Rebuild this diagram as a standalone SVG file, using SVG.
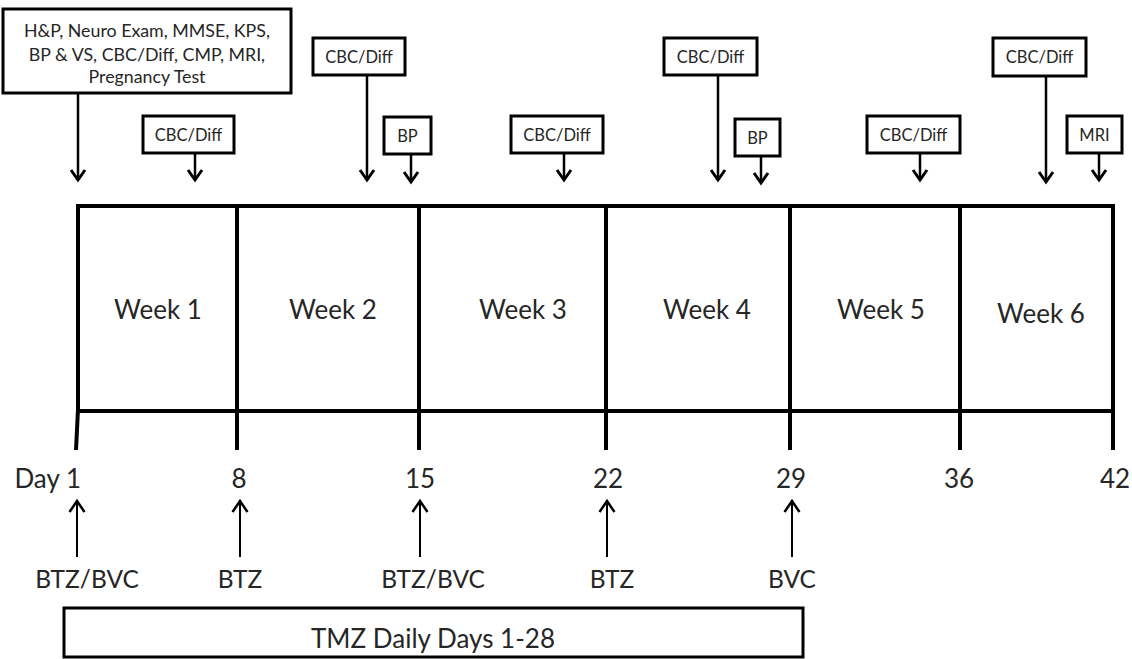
<svg xmlns="http://www.w3.org/2000/svg" width="1132" height="659" viewBox="0 0 1132 659">
<style>
.box{fill:#fff;stroke:#000;stroke-width:3}
.frame{fill:none;stroke:#000;stroke-width:4}
.t{font-family:Lato,'Liberation Sans',sans-serif;fill:#262626}
.s{font-size:16.5px;text-anchor:middle}
.h{font-size:17.8px;text-anchor:middle}
.l{font-size:26px;text-anchor:middle}
.d{font-size:24.5px;text-anchor:middle}
.arrd{stroke:#000;stroke-width:2.5;fill:none;marker-end:url(#chev)}
.arru{stroke:#000;stroke-width:2;fill:none;marker-end:url(#chevu)}
</style>
<defs>
<marker id="chev" markerUnits="userSpaceOnUse" orient="auto" markerWidth="20" markerHeight="20" refX="0" refY="0" overflow="visible">
<path d="M-10,-7 L0,0 L-10,7" fill="none" stroke="#000" stroke-width="3"/>
</marker>
<marker id="chevu" markerUnits="userSpaceOnUse" orient="auto" markerWidth="20" markerHeight="20" refX="0" refY="0" overflow="visible">
<path d="M-11,-7.5 L0,0 L-11,7.5" fill="none" stroke="#000" stroke-width="2.5"/>
</marker>
</defs>
<rect width="1132" height="659" fill="#fff"/>

<g id="timeline">
<rect class="frame" x="78" y="206" width="1035" height="205"/>
<path class="frame" d="M237,206V450 M419,206V450 M606,206V450 M790,206V450 M960,206V450 M1113,206V450 M78,409 L76,450"/>
<text class="t l" x="158" y="319">Week 1</text>
<text class="t l" x="333" y="319">Week 2</text>
<text class="t l" x="523" y="319">Week 3</text>
<text class="t l" x="707" y="319">Week 4</text>
<text class="t l" x="881" y="319">Week 5</text>
<text class="t l" x="1041" y="323">Week 6</text>
</g>

<g id="day-labels">
<text class="t l" x="81" y="488" style="text-anchor:end">Day 1</text>
<text class="t l" x="239" y="488">8</text>
<text class="t l" x="420" y="488">15</text>
<text class="t l" x="608" y="488">22</text>
<text class="t l" x="791" y="488">29</text>
<text class="t l" x="959" y="488">36</text>
<text class="t l" x="1115" y="488">42</text>
</g>

<g id="baseline-box">
<rect class="box" x="3" y="9" width="288" height="84" stroke-width="4"/>
<text class="t h" x="147" y="37">H&amp;P, Neuro Exam, MMSE, KPS,</text>
<text class="t h" x="147" y="61">BP &amp; VS, CBC/Diff, CMP, MRI,</text>
<text class="t h" x="147" y="83">Pregnancy Test</text>
</g>

<g id="cbc1"><rect class="box" x="143" y="116" width="91" height="37"/><text class="t s" x="188.5" y="141">CBC/Diff</text></g>
<g id="cbc2"><rect class="box" x="313" y="38" width="92" height="37"/><text class="t s" x="359" y="63">CBC/Diff</text></g>
<g id="bp1"><rect class="box" x="384" y="117" width="47" height="37"/><text class="t s" x="407.5" y="142">BP</text></g>
<g id="cbc3"><rect class="box" x="511" y="116" width="92" height="37"/><text class="t s" x="557" y="141">CBC/Diff</text></g>
<g id="cbc4"><rect class="box" x="664" y="38" width="93" height="37"/><text class="t s" x="710.5" y="63">CBC/Diff</text></g>
<g id="bp2"><rect class="box" x="735" y="119" width="45" height="37"/><text class="t s" x="757.5" y="144">BP</text></g>
<g id="cbc5"><rect class="box" x="867" y="116" width="93" height="37"/><text class="t s" x="913.5" y="141">CBC/Diff</text></g>
<g id="cbc6"><rect class="box" x="993" y="38" width="93" height="38"/><text class="t s" x="1039.5" y="63">CBC/Diff</text></g>
<g id="mri"><rect class="box" x="1067" y="116" width="55" height="37"/><text class="t s" x="1094.5" y="141">MRI</text></g>

<g id="drug-labels">
<text class="t d" x="87" y="588">BTZ/BVC</text>
<text class="t d" x="240" y="588">BTZ</text>
<text class="t d" x="433" y="588">BTZ/BVC</text>
<text class="t d" x="612" y="588">BTZ</text>
<text class="t d" x="792" y="588">BVC</text>
</g>

<g id="tmz">
<rect class="box" x="64" y="608" width="739" height="49"/>
<text class="t l" x="433" y="648">TMZ Daily Days 1-28</text>
</g>

<g id="connectors">
<path class="arrd" d="M78,93V180"/>
<path class="arrd" d="M195,153V180"/>
<path class="arrd" d="M367,75V180"/>
<path class="arrd" d="M411,154V182"/>
<path class="arrd" d="M564,153V180"/>
<path class="arrd" d="M718,75V180"/>
<path class="arrd" d="M761,156V183"/>
<path class="arrd" d="M920,153V180"/>
<path class="arrd" d="M1046,76V182"/>
<path class="arrd" d="M1099,153V180"/>
<path class="arru" d="M77,557V501"/>
<path class="arru" d="M240,557V501"/>
<path class="arru" d="M420,557V501"/>
<path class="arru" d="M607,557V501"/>
<path class="arru" d="M792,557V501"/>
</g>
</svg>
